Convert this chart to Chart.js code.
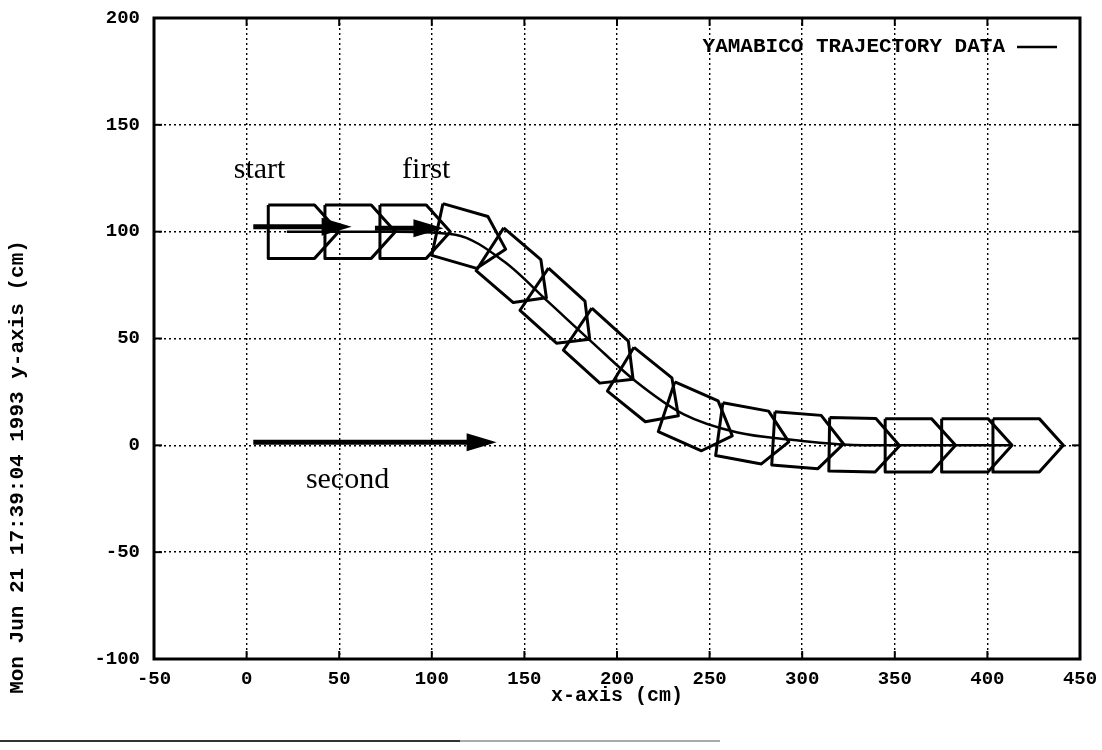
<!DOCTYPE html>
<html lang="en">
<head>
<meta charset="utf-8">
<title>Yamabico trajectory</title>
<script src="https://cdn.jsdelivr.net/npm/chart.js@4.4.1/dist/chart.umd.min.js"></script>
<style>
  html, body { margin: 0; padding: 0; background: #fff; }
</style>
</head>
<body>
<canvas id="traj" width="1102" height="750"></canvas>
<script>
// robot reference points (wheel axle); heading in degrees
var robotX = [21.7, 52.3, 82, 112.7, 139.4, 163.2, 186.6, 210.2, 236.1, 265.1, 294.4, 324.6, 354.8, 385.3, 413];
var robotY = [100, 100, 100, 98.6, 85.8, 66.9, 48.2, 29.9, 14.5, 6.0, 2.6, 0.3, 0, 0, 0];
var robotHeading = [0, 0, 0, -14, -36.6, -38, -38, -35, -21, -9, -4, -1, 0, 0, 0];

var xTicks = [-50, 0, 50, 100, 150, 200, 250, 300, 350, 400, 450];
var yTicks = [-100, -50, 0, 50, 100, 150, 200];

// hand drawn arrows and notes
var arrowFromX = [3.6, 69.3, 3.6];
var arrowToX = [56.7, 106.3, 135];
var arrowY = [102.3, 101.6, 1.4];
var noteText = ['start', 'first', 'second'];
var noteX = [7, 97, 54.5];
var noteY = [125, 125, -20];

// robot outline, relative to the axle point (cm)
var BACK = 10, SHOULDER = 15, TIP = 28, HALF = 12.5;

function robotOutline(x, y, deg) {
    var a = deg * Math.PI / 180, c = Math.cos(a), s = Math.sin(a);
    var local = [[-BACK, HALF], [SHOULDER, HALF], [TIP, 0], [SHOULDER, -HALF], [-BACK, -HALF], [-BACK, HALF]];
    return local.map(function (p) {
        return { x: x + p[0] * c - p[1] * s, y: y + p[0] * s + p[1] * c };
    });
}

var datasets = [{
    label: 'YAMABICO TRAJECTORY DATA',
    data: robotX.map(function (x, i) { return { x: x, y: robotY[i] }; }),
    showLine: true,
    borderColor: '#000',
    borderWidth: 2.5,
    pointRadius: 0,
    cubicInterpolationMode: 'monotone'
}];
for (var i = 0; i < robotX.length; i++) {
    datasets.push({
        label: 'robot' + i,
        data: robotOutline(robotX[i], robotY[i], robotHeading[i]),
        showLine: true,
        borderColor: '#000',
        borderWidth: 3,
        borderJoinStyle: 'round',
        pointRadius: 0,
        tension: 0
    });
}

function seg(ctx, x1, y1, x2, y2) {
    ctx.beginPath();
    ctx.moveTo(x1, y1);
    ctx.lineTo(x2, y2);
    ctx.stroke();
}

var decor = {
    id: 'decor',
    afterDatasetsDraw: function (chart) {
        var ctx = chart.ctx, a = chart.chartArea, xs = chart.scales.x, ys = chart.scales.y;
        ctx.save();
        ctx.strokeStyle = '#000';
        ctx.fillStyle = '#000';

        // frame + inward ticks
        ctx.lineWidth = 3;
        ctx.strokeRect(a.left, a.top, a.right - a.left, a.bottom - a.top);
        ctx.lineWidth = 2;
        xTicks.forEach(function (v) {
            var px = xs.getPixelForValue(v);
            seg(ctx, px, a.bottom, px, a.bottom - 8);
            seg(ctx, px, a.top, px, a.top + 8);
        });
        yTicks.forEach(function (v) {
            var py = ys.getPixelForValue(v);
            seg(ctx, a.left, py, a.left + 8, py);
            seg(ctx, a.right, py, a.right - 8, py);
        });

        // arrows
        for (var k = 0; k < arrowY.length; k++) {
            var x0 = xs.getPixelForValue(arrowFromX[k]);
            var x1 = xs.getPixelForValue(arrowToX[k]);
            var y = ys.getPixelForValue(arrowY[k]);
            ctx.lineWidth = 5;
            seg(ctx, x0, y, x1 - 20, y);
            ctx.beginPath();
            ctx.moveTo(x1, y);
            ctx.lineTo(x1 - 30, y - 9);
            ctx.lineTo(x1 - 30, y + 9);
            ctx.closePath();
            ctx.fill();
        }

        // notes
        ctx.font = '30px "Liberation Serif"';
        ctx.textAlign = 'center';
        ctx.textBaseline = 'alphabetic';
        for (var n = 0; n < noteText.length; n++) {
            ctx.fillText(noteText[n], xs.getPixelForValue(noteX[n]), ys.getPixelForValue(noteY[n]));
        }

        // legend, gnuplot style
        ctx.font = 'bold 21px "Liberation Mono"';
        ctx.textAlign = 'right';
        ctx.textBaseline = 'middle';
        ctx.fillText(chart.data.datasets[0].label, a.right - 75, a.top + 29);
        ctx.lineWidth = 2.5;
        seg(ctx, a.right - 63, a.top + 29, a.right - 23, a.top + 29);

        // axis titles
        ctx.font = 'bold 20px "Liberation Mono"';
        ctx.textAlign = 'center';
        ctx.fillText('x-axis (cm)', (a.left + a.right) / 2, 696);
        ctx.font = 'bold 21px "Liberation Mono"';
        ctx.translate(18, 467);
        ctx.rotate(-Math.PI / 2);
        ctx.fillText('Mon Jun 21 17:39:04 1993 y-axis (cm)', 0, 0);
        ctx.restore();

        // edge of the scanned page
        ctx.save();
        ctx.lineWidth = 2;
        ctx.strokeStyle = '#333';
        seg(ctx, 0, 741, 460, 741);
        ctx.strokeStyle = '#aaa';
        seg(ctx, 460, 741, 720, 741);
        ctx.restore();
    }
};

var tickFont = { family: 'Liberation Mono', size: 19, weight: 'bold' };

new Chart(document.getElementById('traj'), {
    type: 'scatter',
    data: { datasets: datasets },
    options: {
        responsive: false,
        animation: false,
        layout: { autoPadding: false, padding: { left: 0, top: 18, right: 22, bottom: 0 } },
        plugins: { legend: { display: false }, tooltip: { enabled: false } },
        scales: {
            x: {
                type: 'linear', min: -50, max: 450,
                afterBuildTicks: function (s) { s.ticks = xTicks.map(function (v) { return { value: v }; }); },
                afterFit: function (s) { s.height = 91; s.paddingLeft = 0; s.paddingRight = 0; },
                ticks: { color: '#000', font: tickFont, padding: 9, maxRotation: 0 },
                grid: { color: '#000', lineWidth: 1.4, drawTicks: false },
                border: { display: false, dash: [2, 3] }
            },
            y: {
                type: 'linear', min: -100, max: 200,
                afterBuildTicks: function (s) { s.ticks = yTicks.map(function (v) { return { value: v }; }); },
                afterFit: function (s) { s.width = 154; s.paddingTop = 0; s.paddingBottom = 0; },
                ticks: { color: '#000', font: tickFont, padding: 14 },
                grid: { color: '#000', lineWidth: 1.4, drawTicks: false },
                border: { display: false, dash: [2, 3] }
            }
        }
    },
    plugins: [decor]
});
</script>
</body>
</html>
